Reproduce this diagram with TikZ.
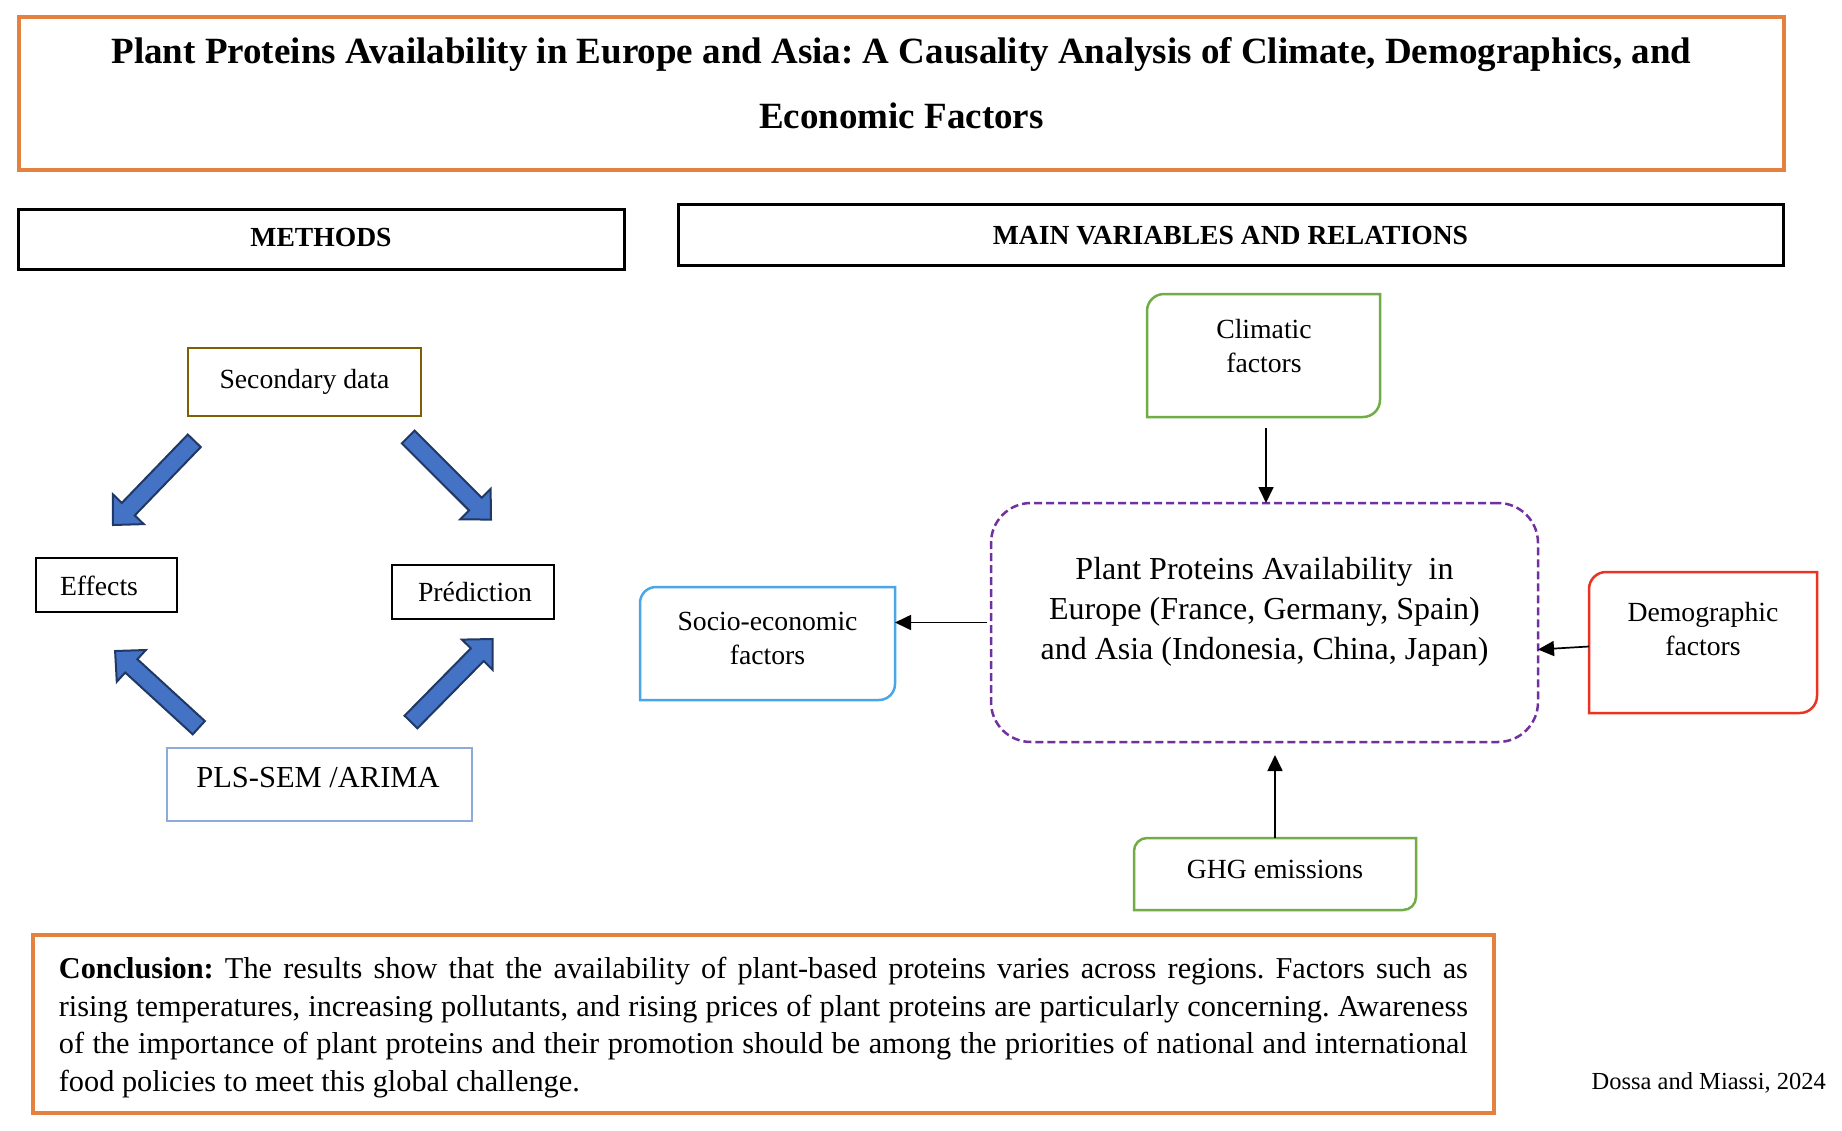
\documentclass[tikz,border=0pt]{standalone}
\usepackage{fontspec}
\setmainfont{Liberation Serif}
\usetikzlibrary{arrows.meta,calc}
\frenchspacing
\definecolor{orng}{HTML}{E4813F}
\definecolor{grn}{HTML}{70AD47}
\definecolor{skyb}{HTML}{4AA6E8}
\definecolor{redb}{HTML}{EA3323}
\definecolor{purp}{HTML}{7030A0}
\definecolor{plsb}{HTML}{8EAADB}
\definecolor{brn}{HTML}{7F6000}
\definecolor{blkfill}{HTML}{4472C4}
\definecolor{blkdraw}{HTML}{203864}
\newcommand\lines[1]{\vtop{\halign{\hfil##\hfil\cr#1\crcr}}}
\newcommand\diagframe[3]{%
  \draw[#2, line width=2.5pt] ([yshift=-#3]#1.north west) arc[start angle=180,end angle=90,radius=#3]
    -- (#1.north east) -- ([yshift=#3]#1.south east) arc[start angle=0,end angle=-90,radius=#3]
    -- (#1.south west) -- cycle;}
\newcommand\blockarrow[2]{%
  \coordinate (bh) at ($(#2)!22pt!(#1)$);
  \draw[blk] ($(#1)!9pt!90:(#2)$) -- ($(bh)!9pt!-90:(#1)$) -- ($(bh)!21.5pt!-90:(#1)$) -- (#2)
    -- ($(bh)!21.5pt!90:(#1)$) -- ($(bh)!9pt!90:(#1)$) -- ($(#1)!9pt!-90:(#2)$) -- cycle;}
\tikzset{
  plain/.style={rectangle, inner sep=0pt, outer sep=0pt},
  lbl/.style={inner sep=0pt, outer sep=0pt, anchor=base, font=\fontsize{27.7pt}{34pt}\selectfont},
  head/.style={inner sep=0pt, outer sep=0pt, anchor=base, font=\bfseries\fontsize{27.6pt}{34pt}\selectfont},
  conn/.style={line width=1.7pt, -{Triangle[length=16pt,width=15pt]}},
  blk/.style={fill=blkfill, draw=blkdraw, line width=2pt, line join=miter},
}
\begin{document}
\begin{tikzpicture}[x=1pt,y=-1pt]
\path[use as bounding box, fill=white] (0,0) rectangle (1842,1130);

% title
\node[plain, draw=orng, line width=3.5pt, minimum width=1765pt, minimum height=153pt] (title) at (901.5,93.5) {};
\node[inner sep=0pt, anchor=base, font=\bfseries\fontsize{37pt}{65pt}\selectfont] (titleT) at (901.5,63)
  {\lines{Plant Proteins Availability in Europe and Asia: A Causality Analysis of Climate, Demographics, and\cr Economic Factors}};

% headings
\node[plain, draw, line width=3pt, minimum width=606pt, minimum height=60pt] (meth) at (321,239) {};
\node[head] (methT) at (321,246) {METHODS};
\node[plain, draw, line width=3pt, minimum width=1105pt, minimum height=61pt] (mainv) at (1230.5,234.5) {};
\node[head] (mainvT) at (1230.5,244) {MAIN VARIABLES AND RELATIONS};

% methods
\node[plain, draw=brn, line width=2.5pt, minimum width=233pt, minimum height=68pt] (sec) at (304.5,382) {};
\node[lbl] (secT) at (304.5,388) {Secondary data};
\node[plain, draw, line width=2pt, minimum width=141pt, minimum height=54pt] (eff) at (106.5,585) {};
\node[lbl] (effT) at (99,595.5) {Effects};
\node[plain, draw, line width=2pt, minimum width=162pt, minimum height=54pt] (pred) at (473,592) {};
\node[lbl] (predT) at (475,601.7) {Prédiction};
\node[plain, draw=plsb, line width=2.5pt, minimum width=305pt, minimum height=73pt] (pls) at (319.5,784.5) {};
\node[lbl, font=\fontsize{30.5pt}{36pt}\selectfont] (plsT) at (318,787) {PLS-SEM /ARIMA};

\coordinate (a1t) at (194.3,440.8); \coordinate (a1h) at (113,525);
\coordinate (a2t) at (408.2,437);   \coordinate (a2h) at (491,519.6);
\coordinate (a3t) at (198.8,727.7); \coordinate (a3h) at (115.1,651);
\coordinate (a4t) at (411,722);     \coordinate (a4h) at (492.7,639);
\blockarrow{a1t}{a1h}
\blockarrow{a2t}{a2h}
\blockarrow{a3t}{a3h}
\blockarrow{a4t}{a4h}

% main variables
\node[plain, minimum width=233pt, minimum height=123pt] (clim) at (1263.5,355.5) {};
\diagframe{clim}{grn}{17pt}
\node[lbl] (climT) at (1264,338) {\lines{Climatic\cr factors}};

\node[plain, draw=purp, line width=2.5pt, dash pattern=on 8pt off 4pt, rounded corners=40pt, minimum width=547pt, minimum height=239pt] (ppa) at (1264.5,622.5) {};
\node[lbl, font=\fontsize{32pt}{40pt}\selectfont] (ppaT) at (1264.5,579)
  {\lines{Plant Proteins Availability\ \ in\cr Europe (France, Germany, Spain)\cr and Asia (Indonesia, China, Japan)}};

\node[plain, minimum width=255pt, minimum height=113pt] (socio) at (767.5,643.5) {};
\diagframe{socio}{skyb}{16pt}
\node[lbl] (socioT) at (767.5,630) {\lines{Socio-economic\cr factors}};

\node[plain, minimum width=228pt, minimum height=141pt] (demo) at (1703,642.5) {};
\diagframe{demo}{redb}{17pt}
\node[lbl] (demoT) at (1703,621.7) {\lines{Demographic\cr factors}};

\node[plain, minimum width=282pt, minimum height=72pt] (ghg) at (1275,874) {};
\diagframe{ghg}{grn}{13pt}
\node[lbl] (ghgT) at (1275,878) {GHG emissions};

\draw[conn] ($(clim.south)+(2.5,11)$) -- ($(clim.south |- ppa.north)+(2.5,0)$);
\draw[conn] ($(ppa.west)+(-4,0)$) -- (ppa.west -| socio.east);
\draw[conn] ($(demo.west)+(0,4)$) -- ($(ppa.east)+(0,27)$);
\draw[conn] (ghg.north) -- ($(ghg.north |- ppa.south)+(0,13)$);

% conclusion
\node[plain, draw=orng, line width=3.5pt, minimum width=1461pt, minimum height=178pt] (concl) at (763.5,1024) {};
\node[inner sep=0pt, anchor=base west, font=\fontsize{30.3pt}{37.6pt}\selectfont] (conclT) at (58.7,978.5)
  {\vtop{\halign{#\hfil\cr
  \makebox[1409pt][s]{\textbf{Conclusion:} The results show that the availability of plant-based proteins varies across regions. Factors such as}\cr
  \makebox[1409pt][s]{rising temperatures, increasing pollutants, and rising prices of plant proteins are particularly concerning. Awareness}\cr
  \makebox[1409pt][s]{of the importance of plant proteins and their promotion should be among the priorities of national and international}\cr
  food policies to meet this global challenge.\cr}}};
\node[inner sep=0pt, anchor=base east, font=\fontsize{24.5pt}{30pt}\selectfont] (cite) at (1826,1089) {Dossa and Miassi, 2024};
\end{tikzpicture}
\end{document}
